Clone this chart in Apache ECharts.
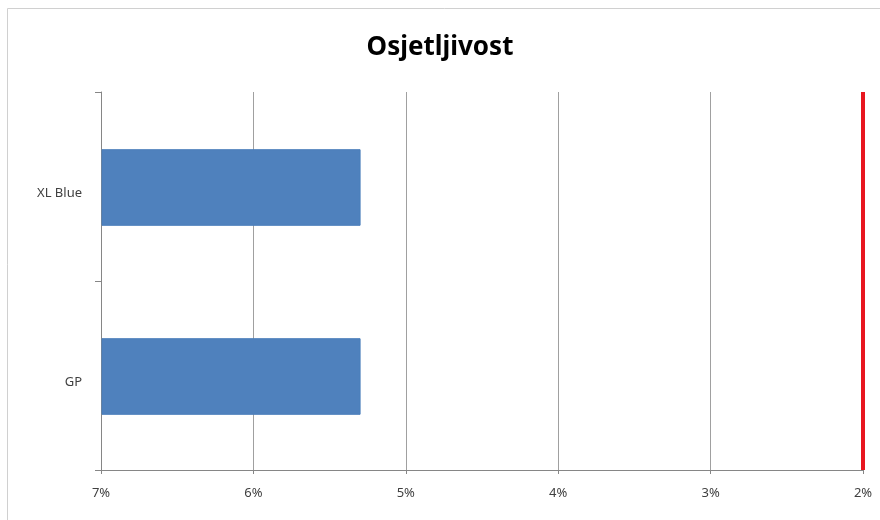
<!DOCTYPE html>
<html>
<head>
<meta charset="utf-8">
<script src="https://cdn.jsdelivr.net/npm/echarts@6/dist/echarts.min.js"></script>
<style>
html,body{margin:0;padding:0;background:#fff;}
#c{width:880px;height:520px;}
</style>
</head>
<body>
<div id="c"></div>
<script>
const titleText = 'Osjetljivost';
const categories = ['XL Blue', 'GP'];
const values = [5.3, 5.3];
const axisMin = 2;
const axisMax = 7;
const axisInterval = 1;
const thresholdValue = 2;

const chart = echarts.init(document.getElementById('c'));
const seriesData = values.map((v, i) => [v, i]);

chart.setOption({
  animation: false,
  backgroundColor: '#ffffff',
  graphic: [{
    type: 'rect',
    silent: true,
    z: -10,
    shape: { x: 7.5, y: 8.5, width: 900, height: 600 },
    style: { fill: 'none', stroke: '#d0d0d0', lineWidth: 1 }
  }],
  title: {
    text: titleText,
    left: 'center',
    top: 30,
    textStyle: { fontFamily: 'Noto Sans', fontWeight: 'bold', fontSize: 26, color: '#000' }
  },
  grid: { left: 101, right: 17, top: 92, bottom: 50 },
  xAxis: {
    type: 'value',
    inverse: true,
    min: axisMin,
    max: axisMax,
    interval: axisInterval,
    axisLine: { show: true, lineStyle: { color: '#868686', width: 1 } },
    axisTick: { show: true, length: 4, lineStyle: { color: '#868686' } },
    axisLabel: {
      formatter: v => v + '%',
      fontFamily: 'Noto Sans',
      fontSize: 13,
      color: '#404040',
      margin: 17
    },
    splitLine: { show: true, lineStyle: { color: '#a0a0a0', width: 1 } }
  },
  yAxis: {
    type: 'category',
    data: categories,
    inverse: true,
    axisLine: { show: true, onZero: false, lineStyle: { color: '#868686', width: 1 } },
    axisTick: { show: true, length: 6, lineStyle: { color: '#868686' } },
    axisLabel: { fontFamily: 'Noto Sans', fontSize: 13, color: '#404040', margin: 19, verticalAlign: 'top' },
    splitLine: { show: false }
  },
  series: [
    {
      type: 'custom',
      data: seriesData,
      encode: { x: 0, y: 1 },
      clip: true,
      renderItem: function (params, api) {
        const idx = api.value(1);
        const start = api.coord([axisMax, idx]);
        const end = api.coord([api.value(0), idx]);
        const h = api.size([0, 1])[1] * 0.4;
        return {
          type: 'rect',
          shape: {
            x: Math.min(start[0], end[0]) + 1,
            y: start[1] - h / 2 + 1,
            width: Math.abs(end[0] - start[0]) - 1,
            height: h
          },
          style: { fill: '#4f81bd', stroke: '#4a7ebb', lineWidth: 1 }
        };
      }
    },
    {
      type: 'line',
      data: [],
      markLine: {
        silent: true,
        symbol: 'none',
        label: { show: false },
        lineStyle: { color: '#e8161f', width: 4, type: 'solid' },
        data: [{ xAxis: thresholdValue }]
      }
    }
  ]
});
</script>
</body>
</html>
